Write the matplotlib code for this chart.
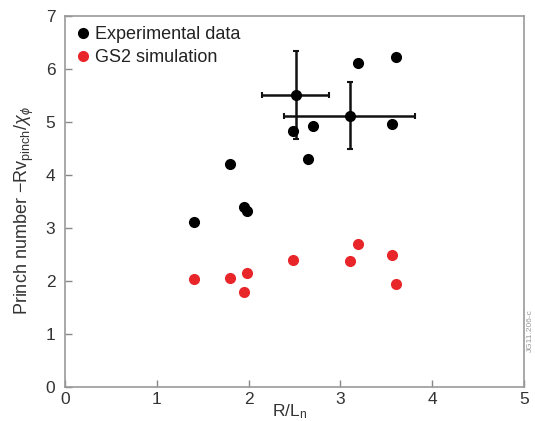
import matplotlib
matplotlib.use("Agg")
import matplotlib.pyplot as plt

plt.rcParams['font.family'] = ['Liberation Sans', 'DejaVu Sans']
plt.rcParams['mathtext.fontset'] = 'custom'
plt.rcParams['mathtext.rm'] = 'Liberation Sans'
plt.rcParams['mathtext.it'] = 'Liberation Sans:italic'

exp_x = [1.40, 1.80, 1.95, 1.98, 2.52, 2.48, 2.70, 2.65, 3.10, 3.19, 3.56, 3.61]
exp_y = [3.11, 4.21, 3.40, 3.31, 5.51, 4.83, 4.91, 4.30, 5.10, 6.10, 4.96, 6.21]

err_x = [2.52, 3.10]
err_y = [5.51, 5.10]
err_xlo = [2.15, 2.38]
err_xhi = [2.88, 3.81]
err_ylo = [4.68, 4.48]
err_yhi = [6.33, 5.74]

sim_x = [1.40, 1.80, 1.98, 1.95, 2.48, 3.10, 3.19, 3.56, 3.61]
sim_y = [2.04, 2.05, 2.15, 1.78, 2.40, 2.38, 2.70, 2.48, 1.94]

fig = plt.figure(figsize=(5.35, 4.21), dpi=100)
ax = fig.add_axes([0.1215, 0.081, 0.858, 0.882])

xerr = [[c - lo for c, lo in zip(err_x, err_xlo)], [hi - c for c, hi in zip(err_x, err_xhi)]]
yerr = [[c - lo for c, lo in zip(err_y, err_ylo)], [hi - c for c, hi in zip(err_y, err_yhi)]]
ax.errorbar(err_x, err_y, xerr=xerr, yerr=yerr, fmt='none', ecolor='#111111',
            elinewidth=1.8, capsize=2.5, capthick=1.5, zorder=2)

ax.plot(exp_x, exp_y, 'o', color='black', markersize=7, label='Experimental data', zorder=3)
ax.plot(sim_x, sim_y, 'o', color='#e8262a', markersize=7, label='GS2 simulation', zorder=3)

ax.set_xlim(0, 5)
ax.set_ylim(0, 7)
ax.set_xticks([0, 1, 2, 3, 4, 5])
ax.set_yticks([0, 1, 2, 3, 4, 5, 6, 7])
ax.tick_params(direction='in', length=5, width=1, color='#888888', labelsize=12.5,
               labelcolor='#333333')
ax.tick_params(axis='x', pad=4)
ax.tick_params(axis='y', pad=7)
for s in ax.spines.values():
    s.set_color('#999999')
    s.set_linewidth(1.2)

ax.set_xlabel('R/L$_\\mathrm{n}$', fontsize=12.5, color='#333333')
ax.xaxis.set_label_coords(0.49, -0.042)
ax.set_ylabel('Princh number \u2212Rv$_\\mathrm{pinch}$/$\\chi_\\phi$', fontsize=13,
              color='#333333')
ax.yaxis.set_label_coords(-0.064, 0.474)

leg = ax.legend(loc='upper left', frameon=False, fontsize=13, handletextpad=0.25,
                handlelength=0.8, borderaxespad=0.2, labelspacing=0.3)
for t in leg.get_texts():
    t.set_color('#222222')

fig.text(0.992, 0.165, 'JG11.206-c', rotation=90, fontsize=6, color='#999999',
         ha='center', va='bottom')

fig.savefig('out.png', dpi=100)
